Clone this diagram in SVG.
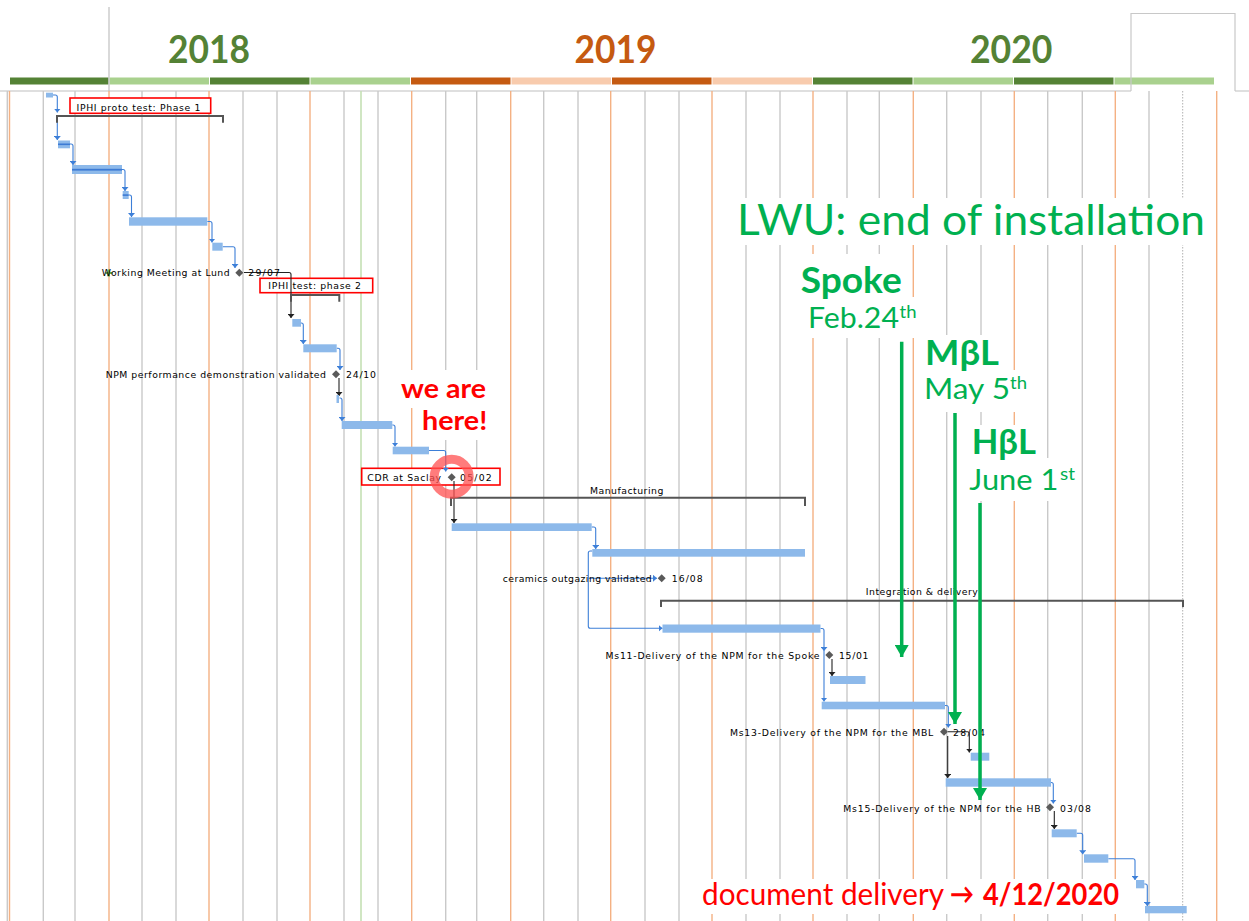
<svg xmlns="http://www.w3.org/2000/svg" width="1249" height="921" viewBox="0 0 1249 921">
<defs>
<style>
.g{stroke:#c9c9c9;stroke-width:1.4}
.o{stroke:#f4b183;stroke-width:1.4}
.bar{fill:#8db9ea}
.prog{fill:#3d7bd4}
.cb{fill:none;stroke:#3d7fd8;stroke-width:1.1}
.ck{fill:none;stroke:#222;stroke-width:1.1}
.lbl{font-family:"DejaVu Sans","Liberation Sans",sans-serif;font-size:9.3px;fill:#000}
.dia{fill:#5a5a5a}
.sum{fill:none;stroke:#555;stroke-width:2}
.rb{fill:#fff;stroke:#ff0000;stroke-width:1.6}
.wb{fill:#fff}
.gt{font-family:Lato,"Open Sans",sans-serif;fill:#00b050}
.ga{stroke:#00b050;stroke-width:3.5;fill:none}
.yr{font-family:Lato,"Open Sans",sans-serif;font-weight:bold;font-size:39px}
.red{font-family:Lato,"Open Sans",sans-serif;fill:#ff0000}
</style>
<marker id="ab" viewBox="0 0 4 7" refX="4" refY="3.5" markerWidth="4" markerHeight="7" markerUnits="userSpaceOnUse" orient="auto"><path d="M0,0 L4,3.5 L0,7 z" fill="#3d7fd8"/></marker>
<marker id="ak" viewBox="0 0 4 7" refX="4" refY="3.5" markerWidth="4" markerHeight="7" markerUnits="userSpaceOnUse" orient="auto"><path d="M0,0 L4,3.5 L0,7 z" fill="#222"/></marker>
<marker id="ag" viewBox="0 0 12 14" refX="12" refY="7" markerWidth="12" markerHeight="14" markerUnits="userSpaceOnUse" orient="auto"><path d="M0,0 L12,7 L0,14 z" fill="#00b050"/></marker>
</defs>
<rect width="1249" height="921" fill="#fff"/>

<g id="header">
<rect x="10" y="77.5" width="98.5" height="7" fill="#548235"/>
<rect x="109.5" y="77.5" width="99.5" height="7" fill="#a9d18e"/>
<rect x="210" y="77.5" width="99.5" height="7" fill="#548235"/>
<rect x="310.5" y="77.5" width="99.5" height="7" fill="#a9d18e"/>
<rect x="411" y="77.5" width="99.5" height="7" fill="#c55a11"/>
<rect x="511.5" y="77.5" width="99.5" height="7" fill="#f8cbad"/>
<rect x="612" y="77.5" width="99.5" height="7" fill="#c55a11"/>
<rect x="712.5" y="77.5" width="99.5" height="7" fill="#f8cbad"/>
<rect x="813" y="77.5" width="99.5" height="7" fill="#548235"/>
<rect x="913.5" y="77.5" width="99.5" height="7" fill="#a9d18e"/>
<rect x="1014" y="77.5" width="99.5" height="7" fill="#548235"/>
<rect x="1114.5" y="77.5" width="99.5" height="7" fill="#a9d18e"/>
<text class="yr" x="168" y="63" fill="#548235" textLength="82" lengthAdjust="spacingAndGlyphs">2018</text>
<text class="yr" x="574.5" y="63" fill="#c55a11" textLength="82" lengthAdjust="spacingAndGlyphs">2019</text>
<text class="yr" x="970" y="63" fill="#548235" textLength="82.5" lengthAdjust="spacingAndGlyphs">2020</text>
<line x1="109" y1="7" x2="109" y2="91" stroke="#c0c0c0" stroke-width="1.2"/>
<path d="M0,91 H1131 M1235,91 H1249" stroke="#c0c0c0" stroke-width="1.2" fill="none"/>
<path d="M1131,91 V13.5 H1235 V91" stroke="#c8c8c8" stroke-width="1.2" fill="none"/>
</g>

<g id="grid">
<line class="g" x1="7.3" y1="91" x2="7.3" y2="921"/>
<line class="o" x1="9.5" y1="91" x2="9.5" y2="921"/>
<line class="g" x1="43.3" y1="91" x2="43.3" y2="921"/>
<line class="g" x1="75" y1="91" x2="75" y2="921"/>
<line class="o" x1="109" y1="91" x2="109" y2="921"/>
<line class="g" x1="142" y1="91" x2="142" y2="921"/>
<line class="g" x1="176" y1="91" x2="176" y2="921"/>
<line class="o" x1="209" y1="91" x2="209" y2="921"/>
<line class="g" x1="243" y1="91" x2="243" y2="921"/>
<line class="g" x1="277" y1="91" x2="277" y2="921"/>
<line class="o" x1="310" y1="91" x2="310" y2="921"/>
<line class="g" x1="344" y1="91" x2="344" y2="921"/>
<line x1="361" y1="91" x2="361" y2="921" stroke="#c5e0b4" stroke-width="1.6"/>
<line class="g" x1="378" y1="91" x2="378" y2="921"/>
<line class="o" x1="411.7" y1="91" x2="411.7" y2="921"/>
<line class="g" x1="445.7" y1="91" x2="445.7" y2="921"/>
<line class="g" x1="476.7" y1="91" x2="476.7" y2="921"/>
<line class="o" x1="510.7" y1="91" x2="510.7" y2="921"/>
<line class="g" x1="543.7" y1="91" x2="543.7" y2="921"/>
<line class="g" x1="578" y1="91" x2="578" y2="921"/>
<line class="o" x1="610.7" y1="91" x2="610.7" y2="921"/>
<line class="g" x1="645" y1="91" x2="645" y2="921"/>
<line class="g" x1="679" y1="91" x2="679" y2="921"/>
<line class="o" x1="712" y1="91" x2="712" y2="921"/>
<line class="g" x1="746" y1="91" x2="746" y2="921"/>
<line class="g" x1="780" y1="91" x2="780" y2="921"/>
<line class="o" x1="813" y1="91" x2="813" y2="921"/>
<line class="g" x1="847" y1="91" x2="847" y2="921"/>
<line class="g" x1="879.3" y1="91" x2="879.3" y2="921"/>
<line class="o" x1="913.3" y1="91" x2="913.3" y2="921"/>
<line class="g" x1="946.7" y1="91" x2="946.7" y2="921"/>
<line class="g" x1="981" y1="91" x2="981" y2="921"/>
<line class="o" x1="1014.3" y1="91" x2="1014.3" y2="921"/>
<line class="g" x1="1047.7" y1="91" x2="1047.7" y2="921"/>
<line class="g" x1="1082.3" y1="91" x2="1082.3" y2="921"/>
<line class="o" x1="1115.3" y1="91" x2="1115.3" y2="921"/>
<line class="g" x1="1149" y1="91" x2="1149" y2="921"/>
<line x1="1182.7" y1="91" x2="1182.7" y2="921" stroke="#b0b0b0" stroke-width="1" stroke-dasharray="1.5 1.5"/>
<line class="o" x1="1216.7" y1="91" x2="1216.7" y2="921"/>
</g>

<g id="textboxes">
<rect class="rb" x="70" y="98" width="140.7" height="15.3"/>
<rect class="rb" x="260" y="278.3" width="112.7" height="14.4"/>
<rect class="rb" x="361.7" y="468.3" width="138.3" height="16.7"/>
<rect class="wb" x="395" y="370" width="100" height="38"/>
<rect class="wb" x="415" y="408" width="80" height="32"/>
<rect class="wb" x="730" y="198" width="482" height="47"/>
<rect class="wb" x="795" y="254" width="112" height="43"/>
<rect class="wb" x="803" y="297" width="116" height="41"/>
<rect class="wb" x="920" y="335" width="84" height="35"/>
<rect class="wb" x="920" y="370" width="110" height="42"/>
<rect class="wb" x="965" y="425" width="76" height="33"/>
<rect class="wb" x="965" y="458" width="113" height="43"/>
<rect class="wb" x="695" y="879" width="430" height="35"/>
</g>

<g id="connectors">
<path class="cb" d="M53,95 H55.3 Q57.3,95 57.3,97 V112.5" marker-end="url(#ab)"/>
<path class="cb" d="M57.3,118 V140" marker-end="url(#ab)"/>
<path class="cb" d="M70,144 H71 Q73,144 73,146 V165" marker-end="url(#ab)"/>
<path class="cb" d="M122,169.5 H123 Q125,169.5 125,171.5 V191" marker-end="url(#ab)"/>
<path class="cb" d="M128.7,195 H129.5 Q131.5,195 131.5,197 V217" marker-end="url(#ab)"/>
<path class="cb" d="M207.3,221.5 H210 Q212,221.5 212,223.5 V242.5" marker-end="url(#ab)"/>
<path class="cb" d="M222.7,246.7 H233 Q235,246.7 235,248.7 V268" marker-end="url(#ab)"/>
<path class="ck" d="M244,272.5 H289 Q291,272.5 291,274.5 V318" marker-end="url(#ak)"/>
<path class="cb" d="M301,323 H301.3 Q303.3,323 303.3,325 V344" marker-end="url(#ab)"/>
<path class="cb" d="M336.7,348.3 H338 Q340,348.3 340,350.3 V370" marker-end="url(#ab)"/>
<path class="ck" d="M339,378 V396" marker-end="url(#ak)"/>
<path class="cb" d="M339.5,398 H340 Q342,398 342,400 V421" marker-end="url(#ab)"/>
<path class="cb" d="M392.3,425 H393 Q395,425 395,427 V446.5" marker-end="url(#ab)"/>
<path class="cb" d="M429,450.5 H443.7 Q445.7,450.5 445.7,452.5 V471.5" marker-end="url(#ab)"/>
<path class="ck" d="M454,481 V523" marker-end="url(#ak)"/>
<path class="cb" d="M591.7,527 H593.7 Q595.7,527 595.7,529 V549" marker-end="url(#ab)"/>
<path class="cb" d="M592.3,551 H590.3 Q588.3,551 588.3,553 V626.3 Q588.3,628.3 590.3,628.3 H662.5" marker-end="url(#ab)"/>
<path class="cb" d="M588.3,578.3 H657" marker-end="url(#ab)"/>
<path class="cb" d="M820.5,628.5 H822 Q824,628.5 824,630.5 V651" marker-end="url(#ab)"/>
<path class="cb" d="M824,651 V701.5" marker-end="url(#ab)"/>
<path class="ck" d="M832,659 V676" marker-end="url(#ak)"/>
<path class="cb" d="M945,705.5 H946.3 Q948.3,705.5 948.3,707.5 V727.5" marker-end="url(#ab)"/>
<path class="ck" d="M948,731.7 H967.3 Q969.3,731.7 969.3,733.7 V752.5" marker-end="url(#ak)"/>
<path class="ck" d="M947.7,736 V778" marker-end="url(#ak)"/>
<path class="cb" d="M1051,782.5 H1051.3 Q1053.3,782.5 1053.3,784.5 V803.5" marker-end="url(#ab)"/>
<path class="ck" d="M1054.3,811 V829" marker-end="url(#ak)"/>
<path class="cb" d="M1076.7,833.3 H1080.7 Q1082.7,833.3 1082.7,835.3 V854.3" marker-end="url(#ab)"/>
<path class="cb" d="M1108.3,858.8 H1133 Q1135,858.8 1135,860.8 V880" marker-end="url(#ab)"/>
<path class="cb" d="M1144.3,884 H1145.3 Q1147.3,884 1147.3,886 V906" marker-end="url(#ab)"/>
</g>

<g id="tasks">
<rect class="bar" x="46" y="92.7" width="7" height="4.8"/>
<rect class="bar" x="58" y="140.5" width="12" height="7.8"/><rect class="prog" x="58" y="143.5" width="12" height="1.6"/>
<rect class="bar" x="72" y="165" width="50" height="9"/><rect class="prog" x="72" y="168.8" width="50" height="1.8"/>
<rect class="bar" x="122.7" y="191" width="6" height="8"/><rect class="prog" x="122.7" y="194.3" width="6" height="1.6"/>
<rect class="bar" x="129" y="217.3" width="78.3" height="8.4"/>
<rect class="bar" x="212.3" y="242.7" width="10.4" height="8"/>
<rect class="bar" x="292.3" y="319" width="8.7" height="7.7"/>
<rect class="bar" x="303.3" y="344.3" width="33.4" height="8"/>
<rect class="bar" x="336.5" y="395" width="2.5" height="8"/>
<rect class="bar" x="341.7" y="421" width="50.6" height="8"/>
<rect class="bar" x="392.7" y="446.7" width="36.3" height="7.6"/>
<rect class="bar" x="451.7" y="523.3" width="140" height="7.7"/>
<rect class="bar" x="592.3" y="549" width="212.7" height="7.7"/>
<rect class="bar" x="662.5" y="624.5" width="158" height="8.2"/>
<rect class="bar" x="830" y="676" width="35.5" height="8"/>
<rect class="bar" x="821.7" y="701.7" width="123.3" height="7.6"/>
<rect class="bar" x="970.7" y="752.7" width="18.6" height="8"/>
<rect class="bar" x="945.7" y="778.3" width="105.3" height="8.4"/>
<rect class="bar" x="1051.7" y="829.3" width="25" height="8"/>
<rect class="bar" x="1084" y="854.3" width="24.3" height="8.4"/>
<rect class="bar" x="1136" y="880" width="8.3" height="8.3"/>
<rect class="bar" x="1145" y="906" width="41.7" height="7.3"/>
</g>

<g id="summaries">
<path class="sum" d="M57,122.7 V116 H223 V122.7"/>
<path class="sum" d="M291,301.7 V295 H339.3 V301.7"/>
<path class="sum" d="M451,506 V497.7 H805 V506"/>
<path class="sum" d="M661,607 V600.7 H1183 V607"/>
</g>

<g id="milestones">
<path class="dia" d="M239.3,268.7 L243.3,272.7 L239.3,276.7 L235.3,272.7 z"/>
<path d="M105.5,272 h2 v-2.5 h2.5 v2.5 h2.5 v2 h-2.5 v2.5 h-2.5 v-2.5 h-2 z" fill="#70ad47"/>
<path class="dia" d="M336,370.3 L340,374.3 L336,378.3 L332,374.3 z"/>
<path class="dia" d="M451.7,473.3 L455.7,477.3 L451.7,481.3 L447.7,477.3 z"/>
<path class="dia" d="M661.7,574.3 L665.7,578.3 L661.7,582.3 L657.7,578.3 z"/>
<path class="dia" d="M829.3,651 L833.3,655 L829.3,659 L825.3,655 z"/>
<path class="dia" d="M944,727.7 L948,731.7 L944,735.7 L940,731.7 z"/>
<path class="dia" d="M1050,803.3 L1054,807.3 L1050,811.3 L1046,807.3 z"/>
</g>

<g id="labels">
<text class="lbl" x="76.5" y="110.5" textLength="124">IPHI proto test: Phase 1</text>
<text class="lbl" x="101.7" y="276" textLength="128">Working Meeting at Lund</text>
<text class="lbl" x="248.3" y="276" textLength="31.7">29/07</text>
<text class="lbl" x="268.3" y="289" textLength="92.7">IPHI test: phase 2</text>
<text class="lbl" x="105.7" y="378" textLength="220.3">NPM performance demonstration validated</text>
<text class="lbl" x="346" y="378" textLength="30">24/10</text>
<text class="lbl" x="367.3" y="481" textLength="73.7">CDR at Saclay</text>
<text class="lbl" x="460" y="481" textLength="31.7">05/02</text>
<text class="lbl" x="590" y="493.5" textLength="73.3">Manufacturing</text>
<text class="lbl" x="502.7" y="582" textLength="149">ceramics outgazing validated</text>
<text class="lbl" x="671.7" y="582" textLength="31">16/08</text>
<text class="lbl" x="865.8" y="595" textLength="112">Integration &amp; delivery</text>
<text class="lbl" x="605.5" y="658.5" textLength="214">Ms11-Delivery of the NPM for the Spoke</text>
<text class="lbl" x="839" y="658.5" textLength="29.5">15/01</text>
<text class="lbl" x="730" y="735.5" textLength="203.3">Ms13-Delivery of the NPM for the MBL</text>
<text class="lbl" x="953" y="735.5" textLength="32">28/04</text>
<text class="lbl" x="843.3" y="811.5" textLength="197.4">Ms15-Delivery of the NPM for the HB</text>
<text class="lbl" x="1060" y="811.5" textLength="31">03/08</text>
</g>

<g id="annotations">
<text class="red" x="401" y="398" font-size="27" font-weight="bold" textLength="85" lengthAdjust="spacingAndGlyphs">we are</text>
<text class="red" x="422" y="430" font-size="27" font-weight="bold" textLength="65.3" lengthAdjust="spacingAndGlyphs">here!</text>
<circle cx="451.7" cy="476.7" r="17.5" fill="none" stroke="#ff5050" stroke-opacity="0.75" stroke-width="9"/>
<text class="gt" x="737" y="235" font-size="42" textLength="468" lengthAdjust="spacingAndGlyphs">LWU: end of installation</text>
<text class="gt" x="800.7" y="293.3" font-size="36" font-weight="bold" textLength="101" lengthAdjust="spacingAndGlyphs">Spoke</text>
<text class="gt" x="808" y="328.3" font-size="29" textLength="91" lengthAdjust="spacingAndGlyphs">Feb.24</text>
<text class="gt" x="899.5" y="318" font-size="18" textLength="17" lengthAdjust="spacingAndGlyphs">th</text>
<text class="gt" x="925" y="365" font-size="35" font-weight="bold" textLength="74" lengthAdjust="spacingAndGlyphs">MβL</text>
<text class="gt" x="924" y="399.3" font-size="29" textLength="86" lengthAdjust="spacingAndGlyphs">May 5</text>
<text class="gt" x="1010" y="389" font-size="18" textLength="17" lengthAdjust="spacingAndGlyphs">th</text>
<text class="gt" x="971.7" y="454" font-size="35" font-weight="bold" textLength="64.3" lengthAdjust="spacingAndGlyphs">HβL</text>
<text class="gt" x="969.3" y="490" font-size="29" textLength="89" lengthAdjust="spacingAndGlyphs">June 1</text>
<text class="gt" x="1060" y="480" font-size="18" textLength="15" lengthAdjust="spacingAndGlyphs">st</text>
<line class="ga" x1="901.7" y1="341.7" x2="901.7" y2="657" marker-end="url(#ag)"/>
<line class="ga" x1="955" y1="413" x2="955" y2="724" marker-end="url(#ag)"/>
<line class="ga" x1="980" y1="503" x2="980" y2="800" marker-end="url(#ag)"/>
<text class="red" x="702" y="905" font-size="30" textLength="242" lengthAdjust="spacingAndGlyphs">document delivery</text>
<text class="red" x="950" y="904" font-size="28" font-weight="bold" textLength="24" lengthAdjust="spacingAndGlyphs">→</text>
<text class="red" x="983" y="905" font-size="30" font-weight="bold" textLength="136" lengthAdjust="spacingAndGlyphs">4/12/2020</text>
</g>
</svg>
